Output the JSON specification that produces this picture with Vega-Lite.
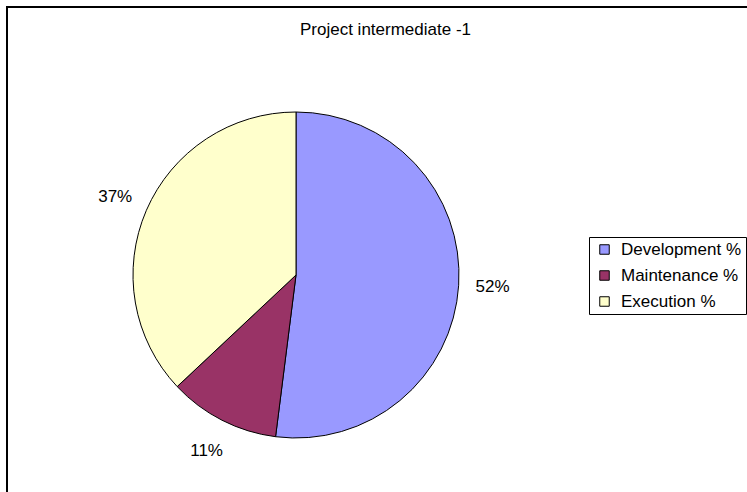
{
  "$schema": "https://vega.github.io/schema/vega-lite/v6.json",
  "autosize": "none",
  "width": 745,
  "height": 490,
  "padding": {"left": 7, "top": 7, "right": 0, "bottom": 0},
  "background": "white",
  "view": {"stroke": "black", "strokeWidth": 2, "fill": "white"},
  "title": {
    "text": "Project intermediate -1",
    "font": "Liberation Sans",
    "fontSize": 17,
    "fontWeight": "normal",
    "color": "black",
    "anchor": "middle",
    "offset": -32,
    "dx": 6
  },
  "data": {
    "values": [
      {"i": 1, "category": "Development %", "share": 0.52},
      {"i": 2, "category": "Maintenance %", "share": 0.11},
      {"i": 3, "category": "Execution %", "share": 0.37}
    ]
  },
  "encoding": {
    "theta": {"field": "share", "type": "quantitative", "stack": true},
    "order": {"field": "i", "type": "quantitative"},
    "color": {
      "field": "category",
      "type": "nominal",
      "sort": ["Development %", "Maintenance %", "Execution %"],
      "scale": {
        "domain": ["Development %", "Maintenance %", "Execution %"],
        "range": ["#9999FF", "#993366", "#FFFFCC"]
      },
      "legend": {
        "title": null,
        "orient": "none",
        "legendX": 582,
        "legendY": 230,
        "strokeColor": "black",
        "fillColor": "white",
        "padding": 4,
        "symbolType": "square",
        "symbolSize": 90,
        "symbolStrokeColor": "black",
        "symbolStrokeWidth": 1,
        "symbolOffset": 3,
        "labelFont": "Liberation Sans",
        "labelFontSize": 17,
        "labelColor": "black",
        "labelOffset": 8,
        "rowPadding": 8,
        "labelLimit": 300
      }
    }
  },
  "layer": [
    {
      "mark": {"type": "arc", "x": 289, "y": 268, "outerRadius": 163, "stroke": "black", "strokeWidth": 1}
    },
    {
      "mark": {"type": "text", "x": 289, "y": 268, "radius": 197, "font": "Liberation Sans", "fontSize": 17, "fill": "black"},
      "encoding": {
        "text": {"field": "share", "type": "quantitative", "format": ".0%"},
        "color": {"value": "black"}
      }
    }
  ]
}
